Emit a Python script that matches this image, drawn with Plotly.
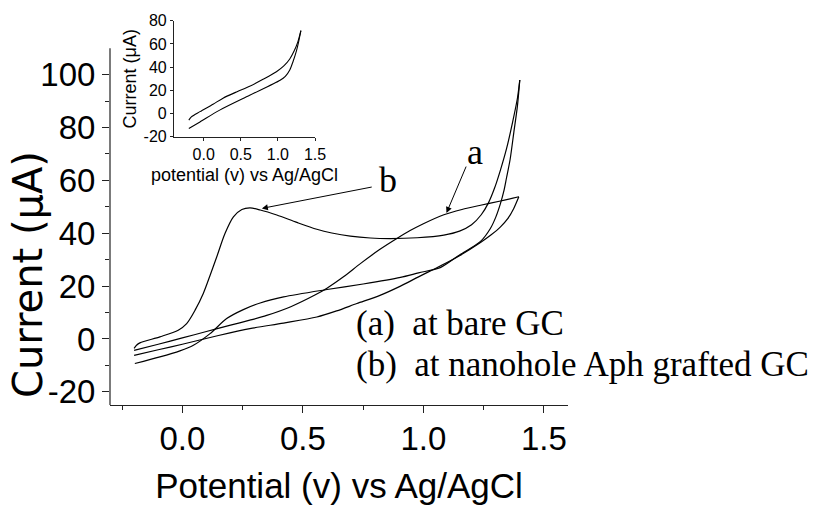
import plotly.graph_objects as go

# Cyclic voltammograms: potential (V vs Ag/AgCl) and current (uA)
a_fwd_v = [-0.2, -0.1, 0.0, 0.1, 0.2, 0.28, 0.35, 0.45, 0.55, 0.6, 0.67, 0.74, 0.82, 0.89, 0.945, 1.0, 1.085, 1.16, 1.237, 1.32, 1.396]
a_fwd_i = [-4.3, -2.0, 0.4, 2.8, 5.2, 7.1, 8.9, 12.2, 16.6, 19.2, 23.6, 28.6, 33.9, 38.0, 41.0, 43.6, 47.0, 49.0, 50.6, 52.2, 53.8]
a_rev_v = [1.396, 1.375, 1.35, 1.32, 1.28, 1.237, 1.15, 1.07, 0.98, 0.905, 0.82, 0.724, 0.64, 0.558, 0.42, 0.28, 0.15, 0.0, -0.1, -0.2]
a_rev_i = [53.8, 49.4, 45.5, 42.4, 39.3, 36.5, 31.5, 27.6, 23.5, 20.0, 16.5, 13.4, 10.6, 8.3, 6.0, 3.9, 1.3, -2.0, -4.1, -6.2]

b_fwd_v = [-0.2, -0.19, -0.176, -0.093, -0.017, 0.018, 0.053, 0.087, 0.115, 0.143, 0.177, 0.212, 0.247, 0.281, 0.323, 0.392, 0.475, 0.558, 0.62, 0.697, 0.78, 0.863, 0.974, 1.085, 1.15, 1.2, 1.24, 1.27, 1.295, 1.32, 1.345, 1.37, 1.39, 1.4]
b_fwd_i = [-3.6, -2.4, -1.5, 0.8, 3.3, 5.8, 10.9, 17.2, 24.0, 31.1, 39.9, 46.2, 49.0, 49.6, 48.8, 46.9, 44.1, 41.5, 40.1, 38.9, 38.2, 38.0, 38.3, 39.3, 40.8, 43.2, 47.0, 51.5, 57.0, 64.0, 72.0, 82.0, 91.0, 98.0]
b_rev_v = [1.4, 1.39, 1.375, 1.36, 1.345, 1.334, 1.32, 1.3, 1.278, 1.237, 1.15, 1.07, 0.98, 0.905, 0.75, 0.6, 0.42, 0.323, 0.253, 0.184, 0.115, 0.046, -0.01, -0.093, -0.197]
b_rev_i = [98.0, 88.0, 78.0, 68.0, 61.0, 56.0, 51.3, 46.0, 41.8, 36.9, 31.8, 27.0, 25.0, 23.3, 20.8, 18.7, 15.9, 13.6, 11.1, 7.7, 2.0, -2.4, -4.5, -6.8, -9.3]

# Inset: background scan
inset_up_v = [-0.2, -0.166, -0.05, 0.126, 0.261, 0.45, 0.62, 0.8, 0.98, 1.08, 1.16, 1.22, 1.27, 1.31]
inset_up_i = [-5.7, -2.9, 1.6, 8.0, 13.2, 18.8, 23.5, 29.5, 36.0, 41.0, 47.0, 54.0, 62.0, 71.4]
inset_lo_v = [1.31, 1.28, 1.25, 1.2, 1.16, 1.1, 1.03, 0.62, 0.216, -0.05, -0.2]
inset_lo_i = [71.4, 62.0, 54.0, 44.0, 37.5, 32.0, 28.6, 15.7, 2.9, -7.3, -12.9]

main_xticks = [0.0, 0.5, 1.0, 1.5]
main_xminor = [-0.25, 0.25, 0.75, 1.25]
main_yticks = [-20, 0, 20, 40, 60, 80, 100]
main_yminor = [-10, 10, 30, 50, 70, 90]
inset_xticks = [0.0, 0.5, 1.0, 1.5]
inset_yticks = [-20, 0, 20, 40, 60, 80]


def fmt_x(vals):
    return [f"{v:.1f}" for v in vals]


def fmt_y(vals):
    # plain hyphen for negatives
    return [str(v) for v in vals]


SANS = "Liberation Sans, Arial, sans-serif"
SERIF = "Liberation Serif, Times New Roman, serif"
INK = "#222"

fig = go.Figure()
for v, i in [(a_fwd_v, a_fwd_i), (a_rev_v, a_rev_i), (b_fwd_v, b_fwd_i), (b_rev_v, b_rev_i)]:
    fig.add_trace(go.Scatter(x=v, y=i, mode="lines",
                             line=dict(shape="spline", smoothing=0.8, color="black", width=1.2),
                             showlegend=False, hoverinfo="skip"))
for v, i in [(inset_up_v, inset_up_i), (inset_lo_v, inset_lo_i)]:
    fig.add_trace(go.Scatter(x=v, y=i, mode="lines", xaxis="x2", yaxis="y2",
                             line=dict(shape="spline", smoothing=0.8, color="black", width=1.1),
                             showlegend=False, hoverinfo="skip"))

axis_common = dict(showgrid=False, zeroline=False, linecolor=INK,
                   linewidth=1.2, ticks="outside", tickcolor=INK, tickwidth=1.2)

fig.update_layout(
    width=820, height=511,
    margin=dict(l=110, r=252, t=20, b=106),
    paper_bgcolor="white", plot_bgcolor="white",
    font=dict(family=SANS, color="black"),
    xaxis=dict(range=[-0.3, 1.6], tickvals=main_xticks, ticktext=fmt_x(main_xticks),
               ticklen=7, tickfont=dict(size=33), ticklabelstandoff=-3, showline=True,
               minor=dict(tickvals=main_xminor, ticklen=4, ticks="outside", tickcolor=INK),
               title=dict(text="Potential (v) vs Ag/AgCl", font=dict(size=35), standoff=17),
               **axis_common),
    yaxis=dict(range=[-25, 120.7], tickvals=main_yticks, ticktext=fmt_y(main_yticks),
               ticklen=7, tickfont=dict(size=33), showline=False,
               minor=dict(tickvals=main_yminor, ticklen=4, ticks="outside", tickcolor=INK),
               **axis_common),
    xaxis2=dict(domain=[0.1397, 0.4476], anchor="y2", range=[-0.4, 1.5], tickvals=inset_xticks,
                ticktext=fmt_x(inset_xticks), ticklen=3, tickfont=dict(size=16), showline=True,
                title=dict(text="potential (v) vs Ag/AgCl", font=dict(size=18), standoff=6),
                **axis_common),
    yaxis2=dict(domain=[0.6969, 0.9982], anchor="x2", range=[-20, 80], tickvals=inset_yticks,
                ticktext=fmt_y(inset_yticks), ticklen=3, tickfont=dict(size=16), showline=True,
                title=dict(text="Current (μA)", font=dict(size=18), standoff=2),
                **axis_common),
)

# main left spine stops at the top of the current scale
fig.add_shape(type="line", xref="paper", yref="y", x0=0, x1=0, y0=-25, y1=110,
              line=dict(color=INK, width=1.2))

# main current-axis title, placed low beside the spine
fig.add_annotation(xref="paper", yref="paper", x=(28 - 110) / 458, y=(405 - 275) / 385,
                   text="Current (μA)", textangle=-90, showarrow=False,
                   xanchor="center", yanchor="middle",
                   font=dict(family="DejaVu Sans, sans-serif", size=40))

# curve labels with arrows
fig.add_annotation(x=0.33, y=49.4, ax=0.792, ay=57.6, xref="x", yref="y", axref="x", ayref="y",
                   text="", showarrow=True, arrowhead=2, arrowsize=1.2, arrowwidth=1, arrowcolor="black")
fig.add_annotation(x=0.855, y=60.1, text="b", showarrow=False, font=dict(family=SERIF, size=36))
fig.add_annotation(x=1.096, y=47.7, ax=1.18, ay=65.8, xref="x", yref="y", axref="x", ayref="y",
                   text="", showarrow=True, arrowhead=2, arrowsize=1.2, arrowwidth=1, arrowcolor="black")
fig.add_annotation(x=1.216, y=70.7, text="a", showarrow=False, font=dict(family=SERIF, size=36))

# key text
key_lines = ["(a)\u00a0 at bare GC", "(b)\u00a0 at nanohole Aph grafted GC"]
key_centres = [323, 364]
for txt, yc in zip(key_lines, key_centres):
    fig.add_annotation(xref="paper", yref="paper", x=(354 - 110) / 458, y=(405 - yc) / 385,
                       xanchor="left", yanchor="middle",
                       text=txt, showarrow=False, font=dict(family=SERIF, size=35))

fig.write_html("out.html")
